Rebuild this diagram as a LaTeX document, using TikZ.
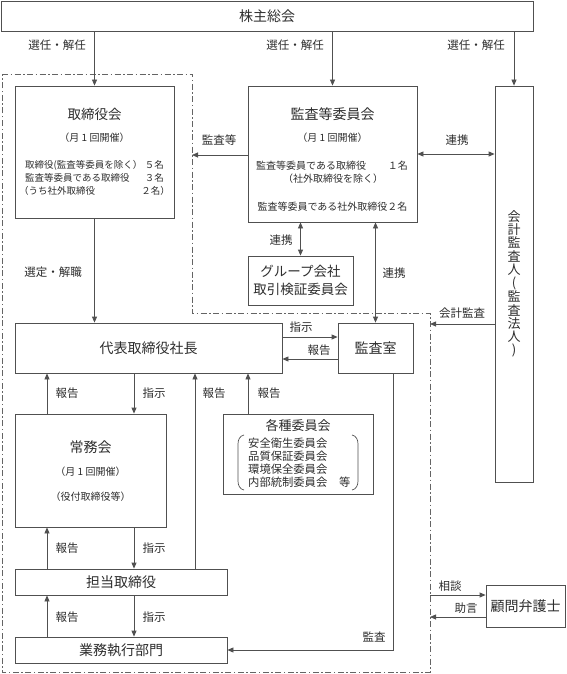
\documentclass[tikz,border=0pt]{standalone}
\usepackage{fontspec}
\setmainfont{Noto Sans CJK JP}
\usetikzlibrary{arrows.meta}
\definecolor{lc}{RGB}{80,80,80}
\definecolor{fc}{RGB}{100,100,100}
\definecolor{tc}{RGB}{45,45,45}
\begin{document}
\begin{tikzpicture}[x=1pt,y=-1pt,
  box/.style={draw=lc, line width=0.8pt, inner sep=0pt, text=tc},
  arr/.style={draw=lc, line width=0.8pt, -{Triangle[length=6pt,width=5pt]}},
  darr/.style={draw=lc, line width=0.8pt, {Triangle[length=6pt,width=5pt]}-{Triangle[length=6pt,width=5pt]}},
  lbl/.style={font=\fontsize{11.5}{13}\selectfont, text=tc, inner sep=0pt},
  ttl/.style={font=\fontsize{14}{16}\selectfont, text=tc, inner sep=0pt},
  sml/.style={font=\fontsize{10}{12}\selectfont, text=tc, inner sep=0pt},
  mem/.style={font=\fontsize{9.5}{11}\selectfont, text=tc, inner sep=0pt},
  kak/.style={font=\fontsize{11.3}{13}\selectfont, text=tc, inner sep=0pt, anchor=west},
  frm/.style={draw=fc, line width=0.8pt, dash pattern=on 6pt off 2.5pt on 1.5pt off 2.5pt}
]
\useasboundingbox (0,0) rectangle (566,674);

% helper coordinates
\coordinate (x47) at (47,0);
\coordinate (x134) at (134,0);
\coordinate (x195) at (195,0);
\coordinate (x248) at (248,0);
\coordinate (x393) at (393,0);
\coordinate (y337) at (0,337);
\coordinate (y359) at (0,359);
\coordinate (fA) at (192,155);
\coordinate (fB) at (430,324);
\coordinate (fC) at (430,595);
\coordinate (fD) at (430,617);

% dash-dot frame
\draw[frm] (2,74) -- (192,74) -- (192,313) -- (430,313) -- (430,672) -- (2,672) -- cycle;

% boxes
\node[box, ttl, minimum width=532pt, minimum height=30pt] (kabu) at (267,16) {株主総会};
\node[box, minimum width=159pt, minimum height=132pt] (tori) at (94.5,152) {};
\node[box, minimum width=169pt, minimum height=136pt] (kansa) at (332.5,154) {};
\node[box, minimum width=38pt, minimum height=396pt] (kaikei) at (514,284) {};
\node[box, font=\fontsize{13.5}{18}\selectfont, align=center, minimum width=105pt, minimum height=49pt] (group) at (300.5,280.5) {グループ会社\\取引検証委員会};
\node[box, ttl, minimum width=267pt, minimum height=50pt] (shacho) at (148.5,348) {代表取締役社長};
\node[box, ttl, minimum width=75pt, minimum height=50pt] (shitsu) at (375.5,348) {監査室};
\node[box, minimum width=151pt, minimum height=113pt] (jomu) at (90.5,470.5) {};
\node[box, minimum width=150pt, minimum height=80pt] (kakushu) at (298,454) {};
\node[box, ttl, minimum width=212pt, minimum height=26pt] (tanto) at (121,582) {担当取締役};
\node[box, ttl, minimum width=212pt, minimum height=26pt] (gyomu) at (121,650) {業務執行部門};
\node[box, ttl, minimum width=79pt, minimum height=42pt] (komon) at (525.5,606) {顧問弁護士};

% 取締役会 contents
\node[ttl, font=\fontsize{13.5}{16}\selectfont] (toriT) at (94.5,114) {取締役会};
\node[sml] (toriM) at (94.5,138) {（月 1 回開催）};
\node[mem, anchor=west] (t1a) at (25,165) {取締役(監査等委員を除く）};
\node[mem, anchor=east] (t1b) at (164,165) {５名};
\node[mem, anchor=west] (t2a) at (25,178) {監査等委員である取締役};
\node[mem, anchor=east] (t2b) at (164,178) {３名};
\node[mem, anchor=west] (t3a) at (19,191) {（うち社外取締役};
\node[mem, anchor=east] (t3b) at (170,191) {２名）};

% 監査等委員会 contents
\node[ttl] (kansaT) at (332.5,114) {監査等委員会};
\node[sml] (kansaM) at (332.5,138) {（月 1 回開催）};
\node[sml, anchor=west] (k1a) at (256,166) {監査等委員である取締役};
\node[sml, anchor=east] (k1b) at (408,166) {１名};
\node[sml] (k2) at (333,179) {（社外取締役を除く）};
\node[sml] (k3) at (332.5,207) {監査等委員である社外取締役２名};

% 会計監査人 vertical text
\node[font=\fontsize{13}{13.2}\selectfont, text=tc, align=center, inner sep=0pt] (kaikeiT) at (514,284) {会\\計\\監\\査\\人\\(\\監\\査\\法\\人\\)};

% 常務会 contents
\node[ttl] (jomuT) at (90.5,447) {常務会};
\node[sml] (jomuM) at (90.5,472) {（月 1 回開催）};
\node[sml] (jomuY) at (90.5,497) {（役付取締役等）};

% 各種委員会 contents
\node[ttl, font=\fontsize{13}{15}\selectfont] (kakT) at (298,426) {各種委員会};
\node[kak] (kk1) at (248,443) {安全衛生委員会};
\node[kak] (kk2) at (248,456) {品質保証委員会};
\node[kak] (kk3) at (248,469) {環境保全委員会};
\node[kak] (kk4) at (248,482) {内部統制委員会};
\node[kak] (kk5) at (339,482) {等};
\coordinate (bl1) at (244,435);
\coordinate (bl2) at (244,490);
\coordinate (br1) at (352,435);
\coordinate (br2) at (352,490);
\draw[lc, line width=0.7pt] (bl1) to[out=190,in=90] (238,444) -- (238,481) to[out=-90,in=170] (bl2);
\draw[lc, line width=0.7pt] (br1) to[out=-10,in=90] (358,444) -- (358,481) to[out=-90,in=10] (br2);

% arrows from 株主総会
\draw[arr] (kabu.south -| tori.north) -- (tori.north);
\draw[arr] (kabu.south -| kansa.north) -- (kansa.north);
\draw[arr] (kabu.south -| kaikei.north) -- (kaikei.north);
\node[lbl] (s1) at (57,45) {選任・解任};
\node[lbl] (s2) at (295,45) {選任・解任};
\node[lbl] (s3) at (476,45) {選任・解任};

% 監査等
\draw[arr] (kansa.west |- fA) -- (fA);
\node[lbl] (lk1) at (219,140) {監査等};
% 連携 (会計監査人)
\draw[darr] (kansa.east) -- (kaikei.west |- kansa.east);
\node[lbl] (lr1) at (457,140) {連携};
% 連携 (グループ)
\draw[darr] (kansa.south -| group.north) -- (group.north);
\node[lbl] (lr2) at (281,240) {連携};
% 連携 (監査室)
\draw[darr] (kansa.south -| shitsu.north) -- (shitsu.north);
\node[lbl] (lr3) at (394,273) {連携};
% 会計監査
\draw[arr] (kaikei.west |- fB) -- (fB);
\node[lbl] (lkk) at (462,313) {会計監査};
% 選定・解職
\draw[arr] (tori.south) -- (shacho.north -| tori.south);
\node[lbl] (lsen) at (53,272) {選定・解職};
% 指示 / 報告 with 監査室
\draw[arr] (shacho.east |- y337) -- (shitsu.west |- y337);
\node[lbl] (ls1) at (301,327) {指示};
\draw[arr] (shitsu.west |- y359) -- (shacho.east |- y359);
\node[lbl] (lh1) at (319,350) {報告};
% 社長 <-> 常務会
\draw[arr] (jomu.north -| x47) -- (shacho.south -| x47);
\node[lbl] (lh2) at (67,393) {報告};
\draw[arr] (shacho.south -| x134) -- (jomu.north -| x134);
\node[lbl] (ls2) at (154,393) {指示};
% 担当取締役 -> 社長
\draw[arr] (tanto.north -| x195) -- (shacho.south -| x195);
\node[lbl] (lh3) at (214,393) {報告};
% 各種委員会 -> 社長
\draw[arr] (kakushu.north -| x248) -- (shacho.south -| x248);
\node[lbl] (lh4) at (269,393) {報告};
% 常務会 <-> 担当取締役
\draw[arr] (tanto.north -| x47) -- (jomu.south -| x47);
\node[lbl] (lh5) at (67,548) {報告};
\draw[arr] (jomu.south -| x134) -- (tanto.north -| x134);
\node[lbl] (ls5) at (154,548) {指示};
% 担当取締役 <-> 業務執行部門
\draw[arr] (gyomu.north -| x47) -- (tanto.south -| x47);
\node[lbl] (lh6) at (67,617) {報告};
\draw[arr] (tanto.south -| x134) -- (gyomu.north -| x134);
\node[lbl] (ls6) at (154,617) {指示};
% 監査
\draw[arr] (shitsu.south -| x393) -- (x393 |- gyomu.east) -- (gyomu.east);
\node[lbl] (lka) at (374,637) {監査};
% 顧問弁護士
\draw[arr] (fC) -- (komon.west |- fC);
\node[lbl] (lso) at (450,586) {相談};
\draw[arr] (komon.west |- fD) -- (fD);
\node[lbl] (ljo) at (466,608) {助言};
\end{tikzpicture}
\end{document}
